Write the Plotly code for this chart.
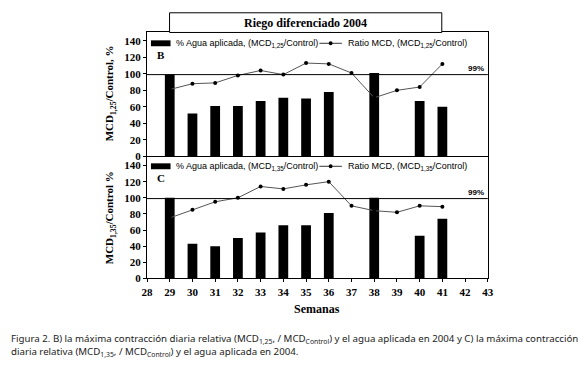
import plotly.graph_objects as go

W, H = 580, 374

# ---- data ----
weeks_bars = [29, 30, 31, 32, 33, 34, 35, 36, 38, 40, 41]
agua_b = [99, 52, 61, 61, 67, 71, 70, 78, 101, 67, 60]
agua_c = [100, 43, 40, 50, 57, 66, 66, 81, 100, 53, 74]
weeks_line = [29, 30, 31, 32, 33, 34, 35, 36, 37, 38, 39, 40, 41]
ratio_b = [81, 88, 89, 98, 104, 99, 113, 112, 101, 71, 80, 84, 112]
ratio_c = [75, 85, 95, 100, 114, 111, 116, 120, 90, 84, 82, 90, 89]
x_ticks = list(range(28, 44))
y_ticks = [0, 20, 40, 60, 80, 100, 120, 140]
threshold = 99


def px(x):
    return x / W


def py(y):
    return 1 - y / H


X0, X1 = 144, 492
TOP_Y0, TOP_Y1 = 33, 159
BOT_Y0, BOT_Y1 = 160, 283

fig = go.Figure()

bar_kw = dict(marker=dict(color="black", line=dict(width=0)), width=0.43, showlegend=False)
line_kw = dict(mode="lines+markers", line=dict(color="#555555", width=1),
               marker=dict(color="black", size=4), showlegend=False)

fig.add_trace(go.Bar(x=weeks_bars, y=agua_b, xaxis="x2", yaxis="y2", **bar_kw))
fig.add_trace(go.Scatter(x=weeks_line, y=ratio_b, xaxis="x2", yaxis="y2", **line_kw))
fig.add_trace(go.Bar(x=weeks_bars, y=agua_c, xaxis="x", yaxis="y", **bar_kw))
fig.add_trace(go.Scatter(x=weeks_line, y=ratio_c, xaxis="x", yaxis="y", **line_kw))

serif = "Liberation Serif"
sans = "Liberation Sans"

yax = dict(range=[0, 150], tickvals=y_ticks, showgrid=False, zeroline=False,
           showline=True, mirror=True, linecolor="black", linewidth=1,
           ticks="outside", ticklen=3, tickcolor="black",
           tickfont=dict(family=serif, size=11, color="black", weight="bold"))

fig.update_layout(
    width=W, height=H, margin=dict(l=0, r=0, t=0, b=0),
    paper_bgcolor="white", plot_bgcolor="white", barmode="overlay",
    xaxis=dict(domain=[px(X0), px(X1)], range=[28, 43], tickvals=x_ticks,
               showgrid=False, zeroline=False, showline=True, mirror=True,
               linecolor="black", linewidth=1, ticks="outside", ticklen=3,
               tickcolor="black", anchor="y",
               tickfont=dict(family=serif, size=11, color="black", weight="bold")),
    xaxis2=dict(domain=[px(X0), px(X1)], range=[28, 43], matches="x",
                showticklabels=False, showgrid=False, zeroline=False,
                showline=True, mirror=True, linecolor="black", linewidth=1,
                ticks="", anchor="y2"),
    yaxis=dict(domain=[py(BOT_Y1), py(BOT_Y0)], anchor="x", **yax),
    yaxis2=dict(domain=[py(TOP_Y1), py(TOP_Y0)], anchor="x2", **yax),
)

shapes = []
ann = []


def note(text, x, y, size, family=sans, xanchor="center", yanchor="middle",
         angle=0, color="black", yref="paper"):
    ann.append(dict(text=text, xref="paper", yref=yref, x=px(x),
                    y=py(y) if yref == "paper" else y,
                    xanchor=xanchor, yanchor=yanchor, textangle=angle,
                    showarrow=False, font=dict(family=family, size=size, color=color)))


# threshold lines
for ya, xa in (("y2", "x2 domain"), ("y", "x domain")):
    shapes.append(dict(type="line", xref=xa, yref=ya, x0=0, x1=1,
                       y0=threshold, y1=threshold, line=dict(color="black", width=1)))
    note("<b>99%</b>", 490, threshold, 8, xanchor="right", yanchor="bottom", yref=ya)

# title box
shapes.append(dict(type="rect", xref="paper", yref="paper", x0=px(167), x1=px(445),
                   y0=py(TOP_Y0), y1=py(13), line=dict(color="black", width=1),
                   fillcolor="white"))
note("<b>Riego diferenciado 2004</b>", 306, 23, 12, family=serif)

# legends
for (ytop, code, letter) in ((44, "1,25", "B"), (169, "1,35", "C")):
    shapes.append(dict(type="rect", xref="paper", yref="paper", x0=px(148), x1=px(168),
                       y0=py(ytop + 3), y1=py(ytop - 3), fillcolor="black",
                       line=dict(width=0)))
    note(f"% Agua aplicada, (MCD<sub>{code}</sub>/Control)", 172, ytop, 9, xanchor="left")
    shapes.append(dict(type="line", xref="paper", yref="paper", x0=px(320), x1=px(343),
                       y0=py(ytop), y1=py(ytop), line=dict(color="#333333", width=1)))
    shapes.append(dict(type="circle", xref="paper", yref="paper", x0=px(329.5), x1=px(333.5),
                       y0=py(ytop + 2), y1=py(ytop - 2), fillcolor="black",
                       line=dict(width=0)))
    note(f"Ratio MCD, (MCD<sub>{code}</sub>/Control)", 347, ytop, 9, xanchor="left")
    note(f"<b>{letter}</b>", 158, ytop + 12, 11, family=serif)

# axis titles
note("<b>MCD<sub>1,25</sub>/Control, %</b>", 107, 95, 11, family=serif, angle=-90)
note("<b>MCD<sub>1,35</sub>/Control %</b>", 107, 221, 11, family=serif, angle=-90)
note("<b>Semanas</b>", 318, 314, 12, family=serif)

# caption
cap1 = ("Figura 2. B) la máxima contracción diaria relativa (MCD<sub>1,25</sub>, / MCD<sub>Control</sub>) "
        "y el agua aplicada en 2004 y C) la máxima contracción")
cap2 = "diaria relativa (MCD<sub>1,35</sub>, / MCD<sub>Control</sub>) y el agua aplicada en 2004."
note(cap1, 3, 345, 9.7, family="Noto Sans", xanchor="left", color="#222222")
note(cap2, 3, 358, 9.7, family="Noto Sans", xanchor="left", color="#222222")

fig.update_layout(shapes=shapes, annotations=ann)
fig.write_html("out.html", post_script="document.body.style.margin='0';",
               config={"displayModeBar": False})
